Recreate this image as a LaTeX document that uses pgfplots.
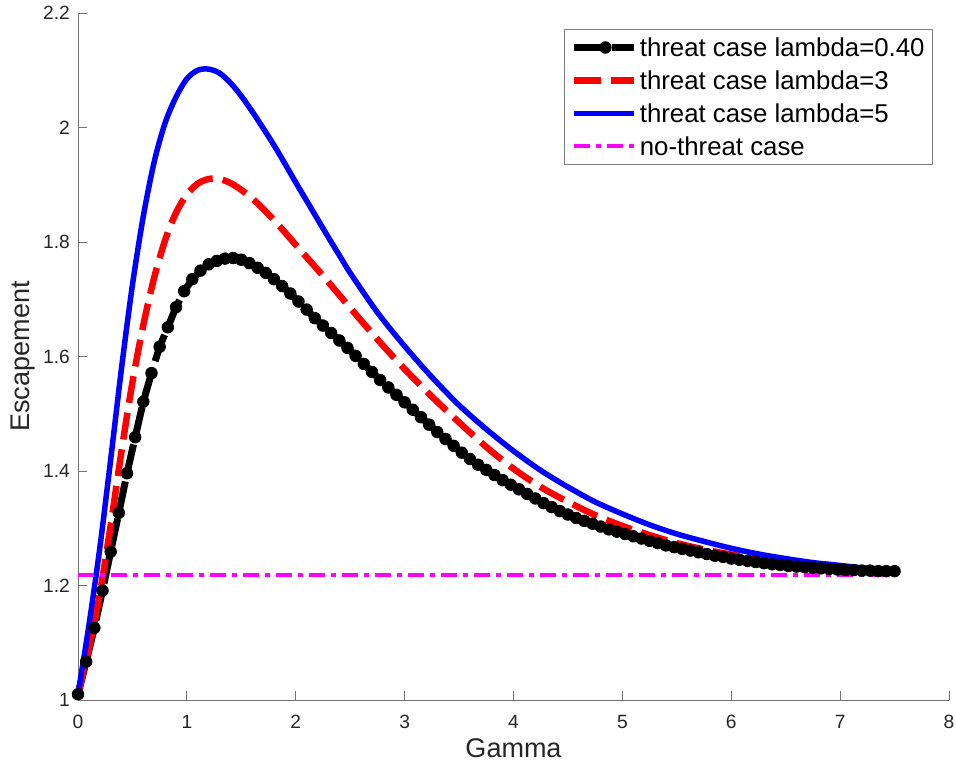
\documentclass[border=0pt]{standalone}
\usepackage{pgfplots}
\pgfplotsset{compat=1.18}
\usepackage{fontspec}
\setmainfont{Liberation Sans}
\usetikzlibrary{calc}
\definecolor{mlmagenta}{rgb}{1,0,1}
\definecolor{mlred}{rgb}{1,0,0}
\definecolor{mlblue}{rgb}{0,0,1}

\pgfplotstableread{
x y
0 1.010
0.075 1.067
0.15 1.126
0.225 1.191
0.3 1.259
0.375 1.327
0.45 1.396
0.525 1.459
0.6 1.521
0.675 1.571
0.75 1.617
0.825 1.651
0.9 1.686
0.975 1.714
1.05 1.735
1.125 1.750
1.2 1.761
1.275 1.767
1.35 1.771
1.425 1.772
1.5 1.769
1.575 1.763
1.65 1.755
1.725 1.746
1.8 1.735
1.875 1.723
1.95 1.710
2.025 1.696
2.1 1.682
2.175 1.667
2.25 1.654
2.325 1.641
2.4 1.628
2.475 1.615
2.55 1.601
2.625 1.587
2.7 1.573
2.775 1.559
2.85 1.546
2.925 1.533
3.0 1.520
3.075 1.507
3.15 1.494
3.225 1.481
3.3 1.468
3.375 1.456
3.45 1.444
3.525 1.432
3.6 1.421
3.675 1.411
3.75 1.402
3.825 1.393
3.9 1.384
3.975 1.376
4.05 1.368
4.125 1.360
4.2 1.352
4.275 1.344
4.35 1.337
4.425 1.330
4.5 1.324
4.575 1.318
4.65 1.313
4.725 1.308
4.8 1.303
4.875 1.298
4.95 1.294
5.025 1.290
5.1 1.286
5.175 1.282
5.25 1.278
5.325 1.274
5.4 1.270
5.475 1.267
5.55 1.264
5.625 1.261
5.7 1.258
5.775 1.255
5.85 1.252
5.925 1.250
6.0 1.247
6.075 1.245
6.15 1.243
6.225 1.241
6.3 1.239
6.375 1.237
6.45 1.236
6.525 1.234
6.6 1.233
6.675 1.232
6.75 1.231
6.825 1.230
6.9 1.229
6.975 1.228
7.05 1.227
7.125 1.227
7.2 1.226
7.275 1.226
7.35 1.225
7.425 1.225
7.5 1.225
}\blackdata

\pgfplotstableread{
x y
0 1.010
0.1 1.090
0.2 1.185
0.3 1.305
0.4 1.435
0.5 1.555
0.6 1.655
0.7 1.738
0.8 1.803
0.9 1.851
1.0 1.883
1.1 1.902
1.2 1.910
1.3 1.910
1.4 1.903
1.5 1.891
1.6 1.876
1.7 1.858
1.8 1.838
1.9 1.817
2.0 1.795
2.25 1.741
2.5 1.685
2.75 1.630
3.0 1.578
3.25 1.530
3.5 1.485
3.75 1.442
4.0 1.404
4.25 1.372
4.5 1.346
4.75 1.323
5.0 1.304
5.25 1.288
5.5 1.274
5.75 1.263
6.0 1.254
6.25 1.247
6.5 1.241
6.75 1.236
7.0 1.232
7.25 1.229
7.5 1.227
}\reddata

\pgfplotstableread{
x y
0 1.010
0.1 1.130
0.2 1.265
0.3 1.420
0.4 1.580
0.5 1.725
0.6 1.845
0.7 1.940
0.8 2.008
0.9 2.053
1.0 2.085
1.1 2.100
1.2 2.102
1.3 2.095
1.4 2.078
1.5 2.055
1.6 2.028
1.7 1.999
1.8 1.969
1.9 1.937
2.0 1.904
2.1 1.872
2.2 1.840
2.3 1.808
2.4 1.777
2.5 1.746
2.75 1.677
3.0 1.618
3.25 1.564
3.5 1.515
3.75 1.473
4.0 1.435
4.25 1.401
4.5 1.372
4.75 1.346
5.0 1.325
5.25 1.306
5.5 1.290
5.75 1.277
6.0 1.265
6.25 1.255
6.5 1.247
6.75 1.240
7.0 1.235
7.25 1.230
7.5 1.227
}\bluedata

\pgfplotstableread{
x y
0 1.218
7.5 1.218
}\magentadata

\begin{document}
\begin{tikzpicture}
\begin{axis}[
  name=ax,
  scale only axis,
  width=871pt, height=687pt,
  xmin=0, xmax=8, ymin=1, ymax=2.2,
  clip=false,
  axis lines=left,
  axis line style={-, draw=black!55, line width=0.8pt},
  xtick={0,1,2,3,4,5,6,7,8},
  ytick={1,1.2,1.4,1.6,1.8,2,2.2},
  tick align=inside,
  major tick length=9pt,
  tick style={draw=black!55, line width=0.8pt},
  /pgf/number format/assume math mode=true,
  ticklabel style={font=\fontsize{19.2}{23}\selectfont, text=black!85},
  xticklabel style={inner sep=0pt, anchor=north, yshift=-15pt},
  yticklabel style={inner sep=0pt, anchor=east, xshift=-8pt},
  xlabel={Gamma}, ylabel={Escapement},
  label style={font=\fontsize{27}{32}\selectfont, text=black!85},
  xlabel style={at={(axis description cs:0.5,-0.0699)}, anchor=center},
  ylabel style={at={(axis description cs:-0.0631,0.5)}, anchor=center},
  legend style={at={(0.9816,0.9767)}, anchor=north east, draw=black!50, line width=0.8pt,
    fill=white, inner sep=6pt, font=\fontsize{25.8}{31}\selectfont,
    nodes={inner sep=2pt}, row sep=8.8pt},
  legend cell align=left,
  legend image code/.code={\draw[mark repeat=2,mark phase=2,#1] plot coordinates {(0pt,0pt) (31pt,0pt) (60pt,0pt)};},
]
\addplot[black, line width=7pt, dash pattern=on 28pt off 10pt, mark=*, mark size=5.8pt,
  mark options={solid, fill=black, line width=0.8pt}] table {\blackdata};
\addlegendentry{threat case lambda=0.40}
\addplot[mlred, line width=6.5pt, dash pattern=on 27pt off 10pt, smooth] table {\reddata};
\addlegendentry{threat case lambda=3}
\addplot[mlblue, line width=5.5pt, smooth] table {\bluedata};
\addlegendentry{threat case lambda=5}
\addplot[mlmagenta, line width=4pt, dash pattern=on 16pt off 6pt on 5pt off 6pt] table {\magentadata};
\addlegendentry{no-threat case}
\end{axis}
\pgfresetboundingbox
\path ($(ax.south west)+(-78pt,-72pt)$) rectangle ($(ax.north east)+(7pt,13pt)$);
\end{tikzpicture}
\end{document}
